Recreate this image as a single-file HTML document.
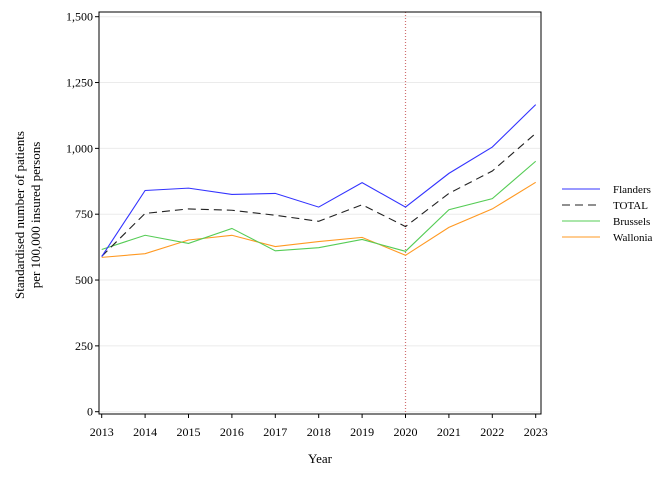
<!DOCTYPE html>
<html><head><meta charset="utf-8"><style>
body{margin:0;background:#fff}
svg{display:block;font-family:"Liberation Serif",serif}
</style></head><body>
<svg id="chart" width="672" height="480">
<g id="grid"></g>
<g id="series"></g>
<rect x="99" y="12" width="442" height="402" fill="none" stroke="#000" stroke-width="1"/>
<g id="axes"></g>
<text x="320" y="463" font-size="13" text-anchor="middle">Year</text>
<text transform="translate(24,215) rotate(-90)" font-size="13" text-anchor="middle"><tspan x="0" dy="0">Standardised number of patients</tspan><tspan x="0" dy="16">per 100,000 insured persons</tspan></text>
<g id="legend"></g>
</svg>
<script>
const years=[2013,2014,2015,2016,2017,2018,2019,2020,2021,2022,2023];
const yTicks=[0,250,500,750,1000,1250,1500];
const yTickLabels=["0","250","500","750","1,000","1,250","1,500"];
const flanders=[589,840,849,825,829,777,870,777,905,1005,1166];
const total=[590,753,770,765,746,723,786,703,829,914,1057];
const brussels=[616,670,639,696,611,623,654,609,767,809,951];
const wallonia=[586,600,652,670,627,646,662,594,700,770,871];
const seriesNames=["Flanders","TOTAL","Brussels","Wallonia"];
const refYear=2020;
const NS="http://www.w3.org/2000/svg";
const xS=y=>101.7+(y-2013)*(535.7-101.7)/10;
const yS=v=>411.7-v*(411.7-16.7)/1500;
function mk(tag,attrs,parent){const e=document.createElementNS(NS,tag);for(const k in attrs)e.setAttribute(k,attrs[k]);parent.appendChild(e);return e;}
const grid=document.getElementById('grid'),axes=document.getElementById('axes'),ser=document.getElementById('series'),leg=document.getElementById('legend');
yTicks.forEach((t,i)=>{
 const g=mk('line',{x1:100,x2:540,y1:yS(t),y2:yS(t),stroke:'#ebebeb','stroke-width':1},grid);
 
 
 const tk=mk('line',{x1:95,x2:99,y1:yS(t),y2:yS(t),stroke:'#000'},axes);
 
 
 const tx=mk('text',{x:93,y:yS(t)+4,'font-size':12,'text-anchor':'end'},axes);
 tx.textContent=yTickLabels[i];
 
 
});
years.forEach(y=>{
 const tk=mk('line',{x1:xS(y),x2:xS(y),y1:414,y2:418,stroke:'#000'},axes);
 
 
 const tx=mk('text',{x:xS(y),y:436,'font-size':12,'text-anchor':'middle'},axes);
 tx.textContent=y;
 
 
});
const ref=mk('line',{x1:xS(refYear),x2:xS(refYear),y1:12,y2:414,stroke:'#d07070','stroke-dasharray':'1,2','stroke-width':1.2},ser);


const data=[flanders,total,brussels,wallonia];
const colors=['#3333ff','#222','#55cc55','#ff9922'];
const dashes=['none','8,5','none','none'];
const order=[3,2,1,0];
order.forEach(i=>{
 const p=mk('polyline',{points:data[i].map((v,j)=>xS(years[j])+','+yS(v)).join(' '),fill:'none',stroke:colors[i],'stroke-width':1.1,'stroke-dasharray':dashes[i]},ser);
 
 
});
seriesNames.forEach((n,i)=>{
 const y=189+i*16;
 const l=mk('line',{x1:562,x2:600,y1:y,y2:y,stroke:colors[i],'stroke-width':1.1,'stroke-dasharray':dashes[i]},leg);
 
 
 const t=mk('text',{x:613,y:y+4,'font-size':11},leg);
 t.textContent=n;
 
 
});
</script>
</body></html>
